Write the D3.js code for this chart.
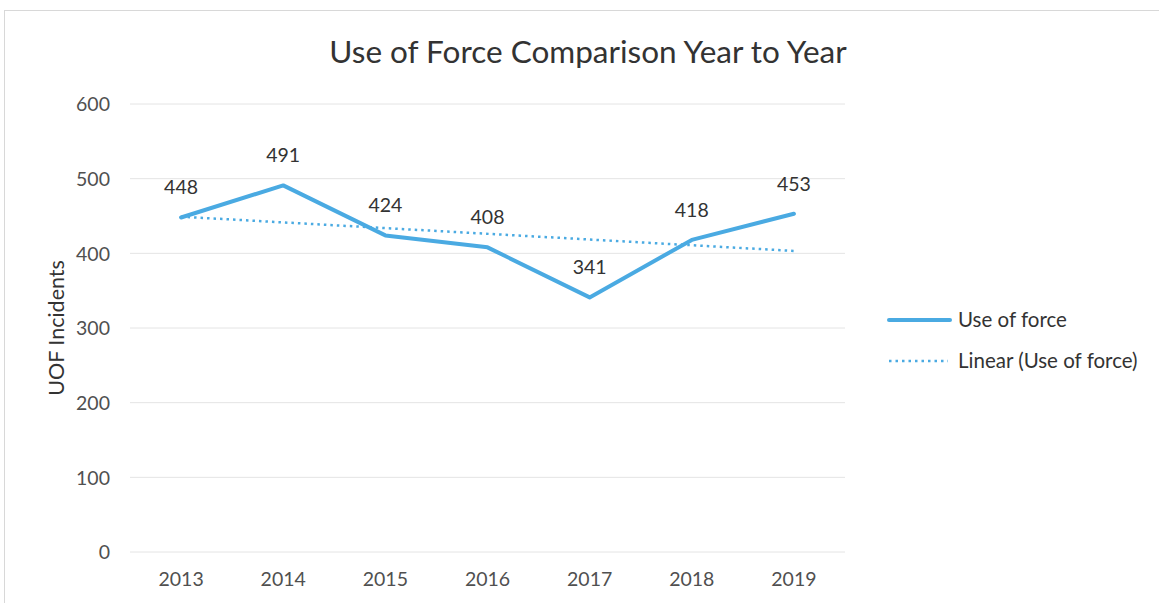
<!DOCTYPE html>
<html><head><meta charset="utf-8">
<script src="https://cdn.jsdelivr.net/npm/d3@7"></script>
<style>body{margin:0;background:#fff}svg{display:block}</style>
</head><body>
<svg id="c" width="1159" height="603"></svg>
<script>
const years = ["2013","2014","2015","2016","2017","2018","2019"];
const useOfForce = [448,491,424,408,341,418,453];
const yTicks = [0,100,200,300,400,500,600];

const svg = d3.select("#c");
const font = "Lato, 'Open Sans', sans-serif";
svg.append("rect").attr("x",4.5).attr("y",10.5).attr("width",1170).attr("height",600)
  .attr("fill","none").attr("stroke","#d8d8d8");

const x = d3.scaleBand().domain(years).range([130,845]);
const y = d3.scaleLinear().domain([0,600]).range([552,104]);
const cx = d => x(d)+x.bandwidth()/2;

// grid
svg.append("g").selectAll("line").data(yTicks).join("line")
  .attr("x1",130).attr("x2",845).attr("y1",d=>y(d)).attr("y2",d=>y(d))
  .attr("stroke","#e4e4e4").attr("stroke-width",1);

// y axis labels
const yAxis = d3.axisLeft(y).tickValues(yTicks).tickSize(0).tickPadding(0);
const ga = svg.append("g").attr("transform","translate(110,0)").call(yAxis);
ga.select(".domain").remove();
ga.selectAll("text").attr("font-family",font).attr("font-size",19.5).attr("fill","#505050").attr("dy","0.35em");

// x axis labels
const xAxis = d3.axisBottom(x).tickSize(0).tickPadding(0);
const gx = svg.append("g").attr("transform","translate(0,572)").call(xAxis);
gx.select(".domain").remove();
gx.selectAll("text").attr("font-family",font).attr("font-size",19.5).attr("fill","#505050").attr("dy","0.71em");

// title
svg.append("text").attr("x",588).attr("y",63).attr("text-anchor","middle")
  .attr("font-family",font).attr("font-size",31.5).attr("fill","#333")
  .text("Use of Force Comparison Year to Year");

// y label
svg.append("text").attr("transform","translate(64,328) rotate(-90)").attr("text-anchor","middle")
  .attr("font-family",font).attr("font-size",21.5).attr("fill","#333").text("UOF Incidents");

const color = "#4aaae2";
// trend line (least squares)
const n = useOfForce.length, mx = (n-1)/2, my = d3.mean(useOfForce);
let sxy=0, sxx=0;
useOfForce.forEach((v,i)=>{sxy+=(i-mx)*(v-my); sxx+=(i-mx)*(i-mx);});
const slope = sxy/sxx, icpt = my - slope*mx;
svg.append("line").attr("x1",cx(years[0])).attr("x2",cx(years[n-1]))
  .attr("y1",y(icpt)).attr("y2",y(icpt+slope*(n-1)))
  .attr("stroke",color).attr("stroke-width",2.5).attr("stroke-dasharray","2.5,4");

// main line
const line = d3.line().x((d,i)=>cx(years[i])).y(d=>y(d));
svg.append("path").datum(useOfForce).attr("d",line).attr("fill","none")
  .attr("stroke",color).attr("stroke-width",4).attr("stroke-linejoin","round").attr("stroke-linecap","round");

// data labels
svg.append("g").selectAll("text").data(useOfForce).join("text")
  .attr("x",(d,i)=>cx(years[i])).attr("y",d=>y(d)-23).attr("text-anchor","middle")
  .attr("font-family",font).attr("font-size",19.5).attr("fill","#333").text(d=>d);

// legend
const lg = svg.append("g");
lg.append("line").attr("x1",889).attr("x2",950).attr("y1",320).attr("y2",320)
  .attr("stroke",color).attr("stroke-width",4).attr("stroke-linecap","round");
lg.append("text").attr("x",958).attr("y",320).attr("dy","0.35em").attr("font-family",font)
  .attr("font-size",20.5).attr("fill","#333").text("Use of force");
lg.append("line").attr("x1",889).attr("x2",948).attr("y1",361).attr("y2",361)
  .attr("stroke",color).attr("stroke-width",2.5).attr("stroke-dasharray","2.5,4");
lg.append("text").attr("x",958).attr("y",361).attr("dy","0.35em").attr("font-family",font)
  .attr("font-size",20.5).attr("fill","#333").text("Linear (Use of force)");
</script>
</body></html>
